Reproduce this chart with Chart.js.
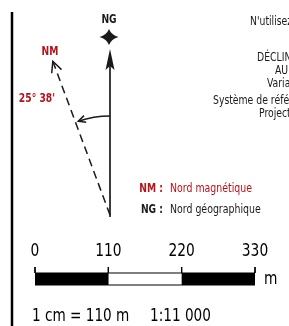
<!DOCTYPE html>
<html>
<head>
<meta charset="utf-8">
<script src="https://cdn.jsdelivr.net/npm/chart.js@4"></script>
<style>
  html, body { margin: 0; padding: 0; background: #fff; }
  canvas { display: block; }
</style>
</head>
<body>
<canvas id="chart" width="289" height="326"></canvas>
<script>
// scale bar (metres)
const scaleTicks = [0, 110, 220, 330];
const scaleFills = ['#000000', '#ffffff', '#000000'];
const scaleUnit = 'm';
const scaleNotes = ['1 cm = 110 m', '1:11 000'];

// declination diagram
const declinationLabel = "25° 38'";
const northLabels = ['NG', 'NM'];
const legendKeys = ['NM :', 'NG :'];
const legendNames = ['Nord magnétique', 'Nord géographique'];
const legendColors = ['#b5121b', '#1a1a1a'];

// side notes (clipped by the right edge)
const sideNotes = [
  "N'utilisez pas cette carte pour la navigation",
  'DÉCLINAISON MAGNÉTIQUE',
  'AU 1er JANVIER 2020',
  'Variation annuelle',
  'Système de référence géodésique',
  'Projection UTM'
];

const FONT = '"Liberation Sans Narrow", "DejaVu Sans Condensed", sans-serif';
const RED = '#b5121b';
const INK = '#1a1a1a';

// layout of the compass (layout units)
const base = { x: 110, y: 215 };
const ngTop = 49;
const nmLength = 164;
const nmDrawAngle = 20.4; // degrees west of NG as drawn
const a = nmDrawAngle * Math.PI / 180;
const nmTip = { x: base.x - nmLength * Math.sin(a), y: base.y - nmLength * Math.cos(a) };

function wing(tip, ang, len, side) {
  // ang = direction the arrow points (radians, canvas coords)
  const w = ang + Math.PI + side * 0.45;
  return { x: tip.x + len * Math.cos(w), y: tip.y + len * Math.sin(w) };
}
const nmDir = Math.atan2(nmTip.y - base.y, nmTip.x - base.x);

const barY = 279;
const datasets = [];

// bar outline
datasets.push({
  data: [{ x: scaleTicks[0], y: barY }, { x: scaleTicks[scaleTicks.length - 1], y: barY }],
  borderColor: '#000', borderWidth: 13, borderCapStyle: 'butt', order: 5
});
// segments
scaleFills.forEach((c, i) => {
  datasets.push({
    data: [{ x: scaleTicks[i], y: barY }, { x: scaleTicks[i + 1], y: barY }],
    borderColor: c, borderWidth: 11, borderCapStyle: 'butt', order: 4
  });
});
// tick marks
scaleTicks.forEach(t => {
  datasets.push({
    data: [{ x: t, y: 267 }, { x: t, y: 273 }],
    borderColor: '#000', borderWidth: 1, order: 3
  });
});
// frame line on the left
datasets.push({
  xAxisID: 'px',
  data: [{ x: 12, y: 12 }, { x: 12, y: 326 }],
  borderColor: '#000', borderWidth: 2.5, order: 3
});
// NG line
datasets.push({
  xAxisID: 'px',
  data: [{ x: base.x, y: base.y + 2 }, { x: base.x, y: ngTop + 14 }],
  borderColor: INK, borderWidth: 1.7, order: 2
});
// NM dashed line
datasets.push({
  xAxisID: 'px',
  data: [{ x: base.x, y: base.y }, { x: nmTip.x, y: nmTip.y }],
  borderColor: INK, borderWidth: 1.5, borderDash: [8, 5], order: 2
});
// NM open arrowhead
const w1 = wing(nmTip, nmDir, 12, 1), w2 = wing(nmTip, nmDir, 12, -1);
datasets.push({
  xAxisID: 'px',
  data: [w1, nmTip, w2],
  borderColor: INK, borderWidth: 1.5, order: 2
});

// condensed text helper
function txt(ctx, s, x, y, align, k) {
  ctx.save();
  ctx.translate(x, y);
  ctx.scale(k, 1);
  ctx.textAlign = align;
  ctx.fillText(s, 0, 0);
  ctx.restore();
}

const marginalia = {
  id: 'marginalia',
  afterDraw(chart) {
    const ctx = chart.ctx;
    const sx = chart.scales.x, px = chart.scales.px, sy = chart.scales.y;
    const X = v => px.getPixelForValue(v), Y = v => sy.getPixelForValue(v);
    ctx.save();
    ctx.textBaseline = 'middle';

    // NG filled arrowhead
    ctx.fillStyle = INK;
    ctx.beginPath();
    ctx.moveTo(X(base.x), Y(ngTop));
    ctx.lineTo(X(base.x + 4.5), Y(ngTop + 21));
    ctx.lineTo(X(base.x), Y(ngTop + 17));
    ctx.lineTo(X(base.x - 4.5), Y(ngTop + 21));
    ctx.closePath();
    ctx.fill();

    // star
    const sc = { x: base.x - 1, y: 37 };
    ctx.beginPath();
    ctx.moveTo(X(sc.x), Y(sc.y - 8));
    ctx.quadraticCurveTo(X(sc.x + 2.2), Y(sc.y - 2.2), X(sc.x + 9.5), Y(sc.y));
    ctx.quadraticCurveTo(X(sc.x + 2.2), Y(sc.y + 2.2), X(sc.x), Y(sc.y + 8));
    ctx.quadraticCurveTo(X(sc.x - 2.2), Y(sc.y + 2.2), X(sc.x - 9.5), Y(sc.y));
    ctx.quadraticCurveTo(X(sc.x - 2.2), Y(sc.y - 2.2), X(sc.x), Y(sc.y - 8));
    ctx.fill();

    // declination arc
    const r = 99;
    const startA = -Math.PI / 2;
    const endA = nmDir + 0.03;
    ctx.strokeStyle = INK;
    ctx.lineWidth = 1.5;
    ctx.beginPath();
    ctx.arc(X(base.x), Y(base.y), r, startA, endA, true);
    ctx.stroke();
    const tip = { x: base.x + r * Math.cos(endA), y: base.y + r * Math.sin(endA) };
    const tan = endA - Math.PI / 2;
    const a1 = wing(tip, tan, 8, 1), a2 = wing(tip, tan, 8, -1);
    ctx.beginPath();
    ctx.moveTo(X(a1.x), Y(a1.y));
    ctx.lineTo(X(tip.x), Y(tip.y));
    ctx.lineTo(X(a2.x), Y(a2.y));
    ctx.stroke();

    // labels
    ctx.font = 'bold 12px ' + FONT;
    ctx.fillStyle = INK;
    txt(ctx, northLabels[0], X(base.x - 1), Y(20), 'center', 0.85);
    ctx.fillStyle = RED;
    txt(ctx, northLabels[1], X(50), Y(52), 'center', 0.85);
    txt(ctx, declinationLabel, X(55), Y(99), 'right', 0.85);

    // legend
    legendKeys.forEach((k, i) => {
      const yy = Y(189 + i * 21);
      ctx.fillStyle = legendColors[i];
      ctx.font = 'bold 12px ' + FONT;
      txt(ctx, k, X(163), yy, 'right', 0.85);
      ctx.font = '12px ' + FONT;
      txt(ctx, legendNames[i], X(170), yy, 'left', 0.87);
    });

    // side notes
    const noteX = [250, 257, 275, 267, 213, 259];
    const noteY = [22, 58, 71, 84, 101, 114];
    ctx.fillStyle = INK;
    ctx.font = '12px ' + FONT;
    sideNotes.forEach((t, i) => txt(ctx, t, X(noteX[i]), Y(noteY[i]), 'left', 0.86));

    // scale bar labels
    ctx.fillStyle = '#000';
    ctx.font = '17px ' + FONT;
    scaleTicks.forEach(t => txt(ctx, String(t), sx.getPixelForValue(t), Y(252), 'center', 0.9));
    txt(ctx, scaleUnit, sx.getPixelForValue(scaleTicks[scaleTicks.length - 1]) + 9, Y(280), 'left', 0.9);
    txt(ctx, scaleNotes[0], X(32), Y(317), 'left', 0.89);
    txt(ctx, scaleNotes[1], X(150), Y(317), 'left', 0.89);

    ctx.restore();
  }
};

// metres -> pixels: 0 m at 35 px, 330 m at 255 px
const mPerPx = 330 / 220;

new Chart(document.getElementById('chart'), {
  type: 'scatter',
  data: { datasets: datasets.map(d => Object.assign({ showLine: true, pointRadius: 0, fill: false }, d)) },
  options: {
    responsive: false,
    animation: false,
    devicePixelRatio: 1,
    layout: { padding: 0 },
    plugins: { legend: { display: false }, tooltip: { enabled: false } },
    events: [],
    scales: {
      x: { type: 'linear', display: false, min: -35 * mPerPx, max: (289 - 35) * mPerPx },
      px: { type: 'linear', axis: 'x', display: false, min: 0, max: 289 },
      y: { type: 'linear', display: false, min: 0, max: 326, reverse: true }
    }
  },
  plugins: [marginalia]
});
</script>
</body>
</html>
